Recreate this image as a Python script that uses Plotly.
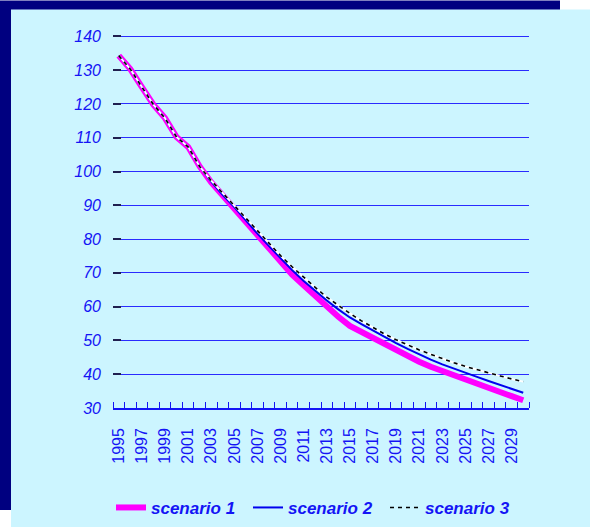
import plotly.graph_objects as go

# Years and the three projection scenarios
years = list(range(1995, 2031))

scenario_1 = [134.3, 130.3, 125.0, 119.8, 115.8, 110.2, 107.3, 101.5, 96.8, 92.9,
              89.0, 84.8, 80.7, 76.7, 73.0, 69.5, 66.3, 63.1, 60.0, 57.0,
              54.3, 52.5, 50.7, 48.8, 47.0, 45.3, 43.7, 42.2, 40.9, 39.7,
              38.5, 37.2, 36.0, 34.7, 33.5, 32.3]

scenario_2 = [134.3, 130.3, 125.0, 119.8, 115.8, 110.2, 107.3, 101.5, 97.0, 93.0,
              89.5, 85.5, 81.6, 77.9, 74.3, 70.8, 67.6, 64.6, 61.8, 59.2,
              56.8, 54.8, 52.9, 51.0, 49.2, 47.5, 45.8, 44.3, 42.9, 41.6,
              40.4, 39.2, 38.0, 36.8, 35.6, 34.5]

scenario_3 = [134.3, 130.3, 125.0, 119.8, 115.8, 110.2, 107.3, 101.5, 97.3, 93.6,
              89.8, 86.0, 82.2, 78.6, 75.1, 71.8, 68.7, 65.7, 62.8, 60.3,
              58.0, 55.8, 53.8, 51.9, 50.2, 48.6, 47.2, 45.9, 44.6, 43.4,
              42.3, 41.3, 40.4, 39.5, 38.6, 37.8]

y_ticks = list(range(30, 141, 10))
x_label_years = list(range(1995, 2030, 2))

BLUE = "#1414f5"
NAVY = "#000080"
CYAN = "#CCF5FF"
FONT = "Liberation Sans, Arial, sans-serif"

# Value range is padded by one unit at the top so the 140 gridline is drawn
Y_MIN, Y_MAX = 30, 141
W, H = 590, 527
L, R, B = 113, 61, 119
UNIT_PX = 372 / 110          # pixels per value unit
T = 36 - (Y_MAX - 140) * UNIT_PX
pw, ph = W - L - R, H - T - B


def px_to_paper(x0, y0, x1, y1):
    return dict(x0=(x0 - L) / pw, x1=(x1 - L) / pw,
                y0=(H - B - y1) / ph, y1=(H - B - y0) / ph)


fig = go.Figure()

fig.add_trace(go.Scatter(x=years, y=scenario_1, mode="lines", name="scenario 1",
                         line=dict(color="#FF00FF", width=6)))
fig.add_trace(go.Scatter(x=years, y=scenario_2, mode="lines", name="scenario 2",
                         line=dict(color="#0000EE", width=2)))
fig.add_trace(go.Scatter(x=years, y=scenario_3, mode="lines", showlegend=False,
                         hoverinfo="skip", line=dict(color="white", width=2)))
fig.add_trace(go.Scatter(x=years, y=scenario_3, mode="lines", name="scenario 3",
                         line=dict(color="black", width=1.6, dash="4px,4px")))

# Framed background: navy card with a light cyan panel laid over it
fig.add_shape(type="rect", xref="paper", yref="paper", layer="below",
              line_width=0, fillcolor=NAVY, **px_to_paper(0, 0, 560, 510))
fig.add_shape(type="rect", xref="paper", yref="paper", layer="below",
              line_width=0, fillcolor=CYAN, **px_to_paper(11, 9, 590, 527))

fig.update_layout(
    width=W, height=H,
    margin=dict(l=L, r=R, t=T, b=B, autoexpand=False),
    paper_bgcolor="white",
    plot_bgcolor="rgba(0,0,0,0)",
    showlegend=True,
    legend=dict(orientation="h", x=(111 - L) / pw, xanchor="left",
                y=(H - B - 508) / ph, yanchor="middle",
                entrywidth=92, entrywidthmode="pixels",
                bgcolor="rgba(0,0,0,0)",
                font=dict(family=FONT, size=17, color=BLUE, weight="bold",
                          style="italic")),
    xaxis=dict(
        range=[1994.5, 2030.5], tickmode="array", tickvals=x_label_years,
        ticktext=[str(v) for v in x_label_years], tickangle=-90,
        ticks="", showgrid=False, zeroline=False,
        showline=True, linecolor=BLUE, linewidth=1.5,
        ticklabelstandoff=12,
        tickfont=dict(family=FONT, size=16, color=BLUE),
        minor=dict(tickmode="linear", tick0=1994.5, dtick=1, ticks="inside",
                   ticklen=6, tickcolor=BLUE, tickwidth=1.2, showgrid=False),
    ),
    yaxis=dict(
        range=[Y_MIN, Y_MAX], tickmode="array", tickvals=y_ticks,
        ticks="inside", ticklen=8, tickcolor="#202050", tickwidth=1.5,
        showgrid=True, gridcolor="#2a2aff", gridwidth=1.4,
        zeroline=False, showline=False,
        ticklabelstandoff=11,
        tickfont=dict(family=FONT, size=16, color=BLUE, style="italic"),
    ),
)

fig.write_html("out.html")
